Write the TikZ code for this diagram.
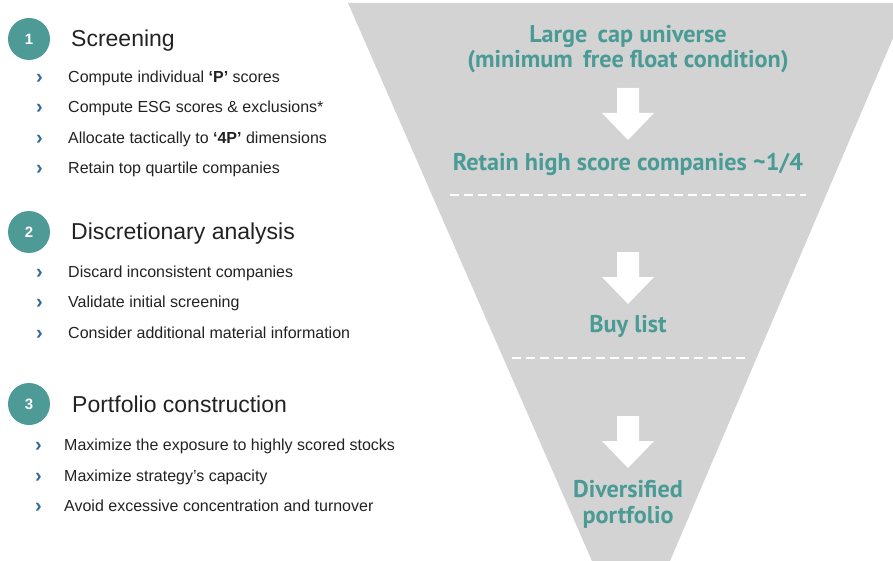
\documentclass[tikz,border=0pt]{standalone}
\usepackage{fontspec}
\setmainfont{Liberation Sans}
\newfontfamily\funnelfont{PT Sans}
\definecolor{teal1}{HTML}{4E9A97}
\definecolor{tealtxt}{HTML}{4A9A95}
\definecolor{funnelgray}{HTML}{D3D3D3}
\definecolor{chev}{HTML}{2F6A9A}
\definecolor{txt}{HTML}{222222}
\tikzset{
  numcirc/.style={circle, fill=teal1, minimum size=42pt, inner sep=0pt, text=white, font=\bfseries\fontsize{15}{15}\selectfont},
  heading/.style={anchor=base west, inner sep=0pt, text=txt, font=\fontsize{23}{23}\selectfont},
  bullettxt/.style={anchor=base west, inner sep=0pt, text=txt, font=\fontsize{16}{16}\selectfont},
  chevron/.style={anchor=base west, inner sep=0pt, text=chev, font=\bfseries\fontsize{20}{20}\selectfont},
  funneltxt/.style={anchor=base, inner sep=0pt, text=tealtxt, align=center, font=\funnelfont\bfseries\fontsize{24.2}{26}\selectfont},
  sep/.style={draw=white, line width=1.3pt, dash pattern=on 9pt off 5pt},
  downarrow/.pic={\fill[white] (-11,0) -- (11,0) -- (11,25) -- (26,25) -- (0,52) -- (-26,25) -- (-11,25) -- cycle;}
}
\begin{document}
\begin{tikzpicture}[x=1pt,y=-1pt]
\useasboundingbox (0,0) rectangle (893,561);
\begin{scope}
\clip (0,0) rectangle (893,561);
\fill[funnelgray] (348,3) -- (908,3) -- (670,561) -- (592,561) -- cycle;
\end{scope}
% left column
\node[numcirc] (c1) at (29,39) {1};
\node[heading] (h1) at (71,47) {Screening};
\foreach \y/\t [count=\i] in {83/{Compute individual \textbf{‘P’} scores},113/{Compute ESG scores \& exclusions*},143.5/{Allocate tactically to \textbf{‘4P’} dimensions},174/{Retain top quartile companies}}{
  \node[chevron] (a1b\i) at (36,\y+1) {›};
  \node[bullettxt] (a1t\i) at (68,\y) {\t};
}
\node[numcirc] (c2) at (29,232) {2};
\node[heading] (h2) at (71,240) {Discretionary analysis};
\foreach \y/\t [count=\i] in {277/{Discard inconsistent companies},307/{Validate initial screening},338/{Consider additional material information}}{
  \node[chevron] (a2b\i) at (36,\y+1) {›};
  \node[bullettxt] (a2t\i) at (68,\y) {\t};
}
\node[numcirc] (c3) at (29,404) {3};
\node[heading] (h3) at (72,412) {Portfolio construction};
\foreach \y/\t [count=\i] in {450/{Maximize the exposure to highly scored stocks},481/{Maximize strategy’s capacity},511/{Avoid excessive concentration and turnover}}{
  \node[chevron] (a3b\i) at (35,\y+1) {›};
  \node[bullettxt] (a3t\i) at (64,\y) {\t};
}
% funnel
\node[funneltxt] (f1) at (628,43) {Large\, cap universe};
\node[funneltxt] (f1b) at (628,68) {(minimum\, free float condition)};
\pic at (628,88) {downarrow};
\node[funneltxt] (f2) at (628,171) {Retain high score companies \textasciitilde1/4};
\coordinate (d1a) at (450,195); \coordinate (d1b) at (806,195);
\draw[sep] (d1a) -- (d1b);
\pic at (628,252) {downarrow};
\node[funneltxt] (f3) at (628,332) {Buy list};
\coordinate (d2a) at (512,358); \coordinate (d2b) at (747,358);
\draw[sep] (d2a) -- (d2b);
\pic at (628,416) {downarrow};
\node[funneltxt] (f4) at (628,497) {Diversified};
\node[funneltxt] (f4b) at (628,523) {portfolio};
\end{tikzpicture}
\end{document}
